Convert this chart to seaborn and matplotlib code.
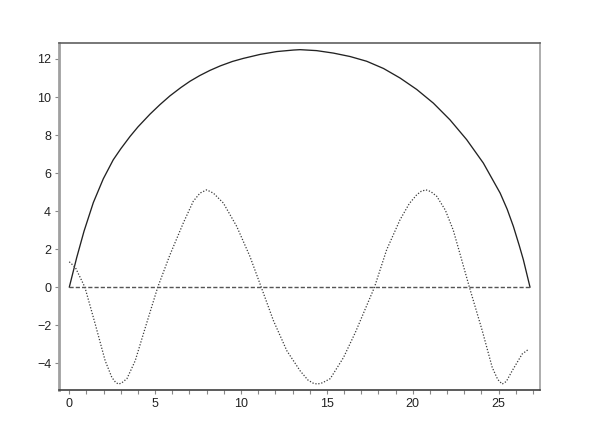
import matplotlib
matplotlib.use("Agg")
import matplotlib.pyplot as plt
import seaborn as sns
from matplotlib.ticker import MultipleLocator

# values
arch_x = [0, 0.43, 0.86, 1.40, 1.98, 2.56, 3.0, 3.54, 4.0, 4.70, 5.28, 5.86, 6.5, 7.03,
          7.6, 8.19, 8.8, 9.5, 10.13, 11.11, 12.08, 13.05, 13.44, 14.4, 15.38, 16.35,
          17.32, 18.3, 19.26, 20.23, 21.2, 22.17, 23.14, 24.11, 25.09, 25.5, 25.86,
          26.2, 26.44, 26.83]
arch_y = [0, 1.55, 2.95, 4.45, 5.7, 6.7, 7.28, 7.93, 8.43, 9.1, 9.6, 10.06, 10.5, 10.83,
          11.13, 11.4, 11.64, 11.87, 12.03, 12.24, 12.39, 12.47, 12.49, 12.44, 12.31, 12.13,
          11.88, 11.5, 11.0, 10.4, 9.68, 8.8, 7.76, 6.53, 4.95, 4.1, 3.2,
          2.2, 1.45, 0]

wave_x = [0, 0.35, 0.91, 1.51, 2.09, 2.48, 2.7, 2.87, 3.05, 3.36, 3.84, 4.43, 5.15, 5.86,
          6.64, 7.22, 7.61, 8.0, 8.39, 8.97, 9.75, 10.52, 11.18, 11.89, 12.67, 13.44, 13.9,
          14.2, 14.45, 14.75, 15.2, 15.97, 16.66, 17.77, 18.48, 19.26, 19.8, 20.23, 20.5,
          20.77, 21.05, 21.4, 21.9, 22.36, 22.8, 23.3, 24.05, 24.63, 24.95, 25.21, 25.45,
          25.79, 26.37, 26.76]
wave_y = [1.34, 1.05, 0, -1.93, -3.86, -4.74, -5.0, -5.09, -5.03, -4.8, -3.86, -2.11, 0, 1.7,
          3.38, 4.52, 4.95, 5.12, 4.95, 4.43, 3.2, 1.62, 0, -1.76, -3.34, -4.39, -4.88,
          -5.04, -5.09, -5.02, -4.8, -3.69, -2.37, 0, 1.97, 3.55, 4.4, 4.86, 5.05,
          5.12, 5.03, 4.78, 4.05, 3.0, 1.6, 0, -2.29, -4.22, -4.85, -5.09, -4.95,
          -4.39, -3.51, -3.25]

zero_x = [0, 26.83]
zero_y = [0, 0]

sns.set_style("white")
plt.rcParams['font.family'] = ['Liberation Sans', 'DejaVu Sans']

fig = plt.figure(figsize=(5.99, 4.34), dpi=100)
ax = fig.add_axes([0.0993, 0.1014, 0.8022, 0.7995])

sns.lineplot(x=arch_x, y=arch_y, ax=ax, sort=False, estimator=None,
             color="#222222", linewidth=0.95)
sns.lineplot(x=wave_x, y=wave_y, ax=ax, sort=False, estimator=None,
             color="#3a3a3a", linewidth=0.9, linestyle=(0, (1, 1.4)))
sns.lineplot(x=zero_x, y=zero_y, ax=ax, sort=False, estimator=None,
             color="#555555", linewidth=1.0, linestyle=(0, (3, 1.5)))

ax.set_xlim(-0.57, 27.41)
ax.set_ylim(-5.40, 12.84)
ax.xaxis.set_major_locator(MultipleLocator(5))
ax.xaxis.set_minor_locator(MultipleLocator(1))
ax.yaxis.set_major_locator(MultipleLocator(2))

ax.tick_params(axis="both", which="both", direction="out", length=3, width=0.8,
               color="#888888", labelsize=9, labelcolor="#222222", pad=3)
ax.tick_params(axis="x", which="both", bottom=True, top=False)
ax.tick_params(axis="y", which="both", left=True, right=False)

ax.spines["left"].set_linewidth(2.0)
ax.spines["left"].set_color("#a0a0a0")
ax.spines["bottom"].set_linewidth(1.2)
ax.spines["bottom"].set_color("#404040")
ax.spines["top"].set_linewidth(1.2)
ax.spines["top"].set_color("#606060")
ax.spines["right"].set_linewidth(1.2)
ax.spines["right"].set_color("#a0a0a0")

ax.set_xlabel("")
ax.set_ylabel("")

fig.savefig("out.png", dpi=100)
